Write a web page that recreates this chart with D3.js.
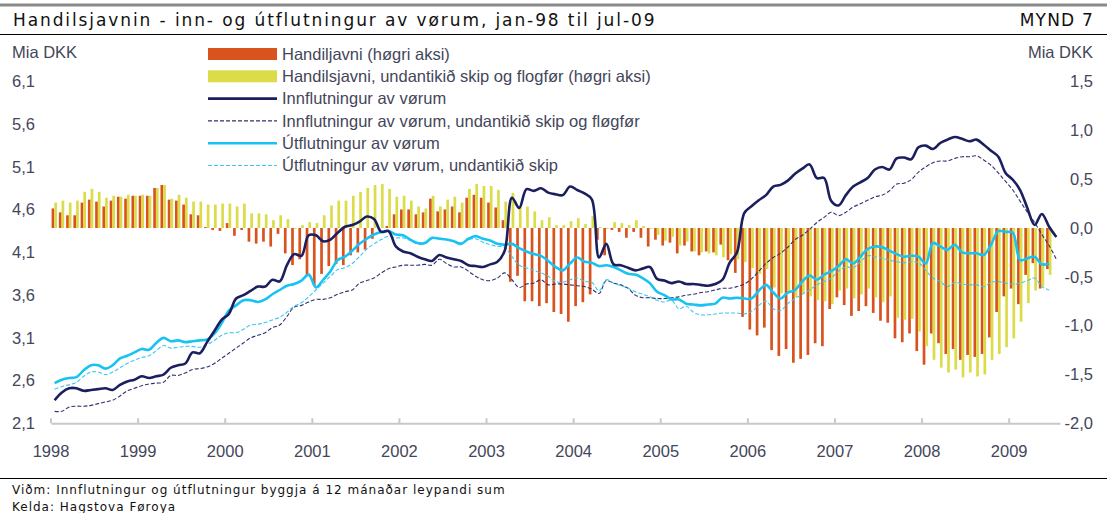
<!DOCTYPE html>
<html>
<head>
<meta charset="utf-8">
<script src="https://cdn.jsdelivr.net/npm/d3@7"></script>
<style>
  body { margin: 0; background: #fff; }
  .narrow { font-family: 'Liberation Sans Narrow', 'Arial Narrow', 'Liberation Sans', sans-serif; }
  .wide { font-family: 'DejaVu Sans', Verdana, sans-serif; }
</style>
</head>
<body>
<div id="chart"></div>
<script>
// Year tick labels and axis ticks
const years = ['1998', '1999', '2000', '2001', '2002', '2003', '2004', '2005', '2006', '2007', '2008', '2009'];
const leftTicks = [2.1, 2.6, 3.1, 3.6, 4.1, 4.6, 5.1, 5.6, 6.1];
const rightTicks = [-2.0, -1.5, -1.0, -0.5, 0.0, 0.5, 1.0, 1.5];

// Monthly values, jan-98 .. jul-09 (12 month rolling sums, Mia DKK)
const innflutningur = [
  2.37, 2.46, 2.51, 2.51, 2.48, 2.49, 2.50, 2.51, 2.49, 2.55, 2.59, 2.61,
  2.65, 2.63, 2.65, 2.67, 2.75, 2.78, 2.80, 2.93, 2.92, 3.05, 3.18, 3.31,
  3.38, 3.56, 3.60, 3.65, 3.70, 3.70, 3.78, 3.76, 3.95, 4.08, 4.06, 4.30,
  4.30, 4.23, 4.25, 4.33, 4.40, 4.42, 4.46, 4.52, 4.49, 4.34, 4.35, 4.17,
  4.11, 4.09, 4.05, 4.02, 4.00, 4.07, 4.04, 4.02, 4.00, 3.95, 3.94, 3.93,
  3.96, 3.99, 4.12, 4.74, 4.62, 4.84, 4.82, 4.85, 4.80, 4.78, 4.77, 4.87,
  4.83, 4.79, 4.72, 4.04, 4.20, 3.96, 3.95, 3.92, 3.89, 3.91, 3.93, 3.79,
  3.77, 3.74, 3.76, 3.73, 3.73, 3.72, 3.71, 3.73, 3.78, 3.98, 4.10, 4.56,
  4.64, 4.71, 4.77, 4.87, 4.89, 4.94, 5.02, 5.08, 5.13, 4.97, 4.97, 4.70,
  4.65, 4.77, 4.87, 4.92, 4.97, 5.07, 5.10, 5.07, 5.20, 5.21, 5.19, 5.33,
  5.35, 5.31, 5.38, 5.42, 5.45, 5.43, 5.40, 5.42, 5.36, 5.29, 5.22, 5.03,
  4.95, 4.83, 4.62, 4.42, 4.55, 4.40, 4.28
];
const innflutningurUtan = [
  2.24, 2.24, 2.29, 2.30, 2.30, 2.31, 2.33, 2.35, 2.37, 2.42, 2.48, 2.51,
  2.54, 2.56, 2.57, 2.58, 2.66, 2.66, 2.69, 2.73, 2.74, 2.76, 2.80, 2.86,
  2.92, 2.98, 3.04, 3.10, 3.13, 3.16, 3.22, 3.25, 3.35, 3.46, 3.48, 3.52,
  3.55, 3.55, 3.57, 3.61, 3.64, 3.66, 3.74, 3.77, 3.80, 3.86, 3.91, 3.93,
  3.95, 3.95, 3.95, 3.96, 3.95, 4.02, 3.97, 3.93, 3.93, 3.88, 3.82, 3.78,
  3.77, 3.80, 3.86, 3.78, 3.69, 3.73, 3.74, 3.78, 3.72, 3.73, 3.73, 3.72,
  3.71, 3.70, 3.67, 3.62, 3.77, 3.74, 3.72, 3.68, 3.60, 3.57, 3.57, 3.56,
  3.56, 3.57, 3.58, 3.60, 3.61, 3.63, 3.64, 3.66, 3.68, 3.68, 3.70, 3.73,
  3.79, 3.88, 3.97, 4.04, 4.09, 4.16, 4.25, 4.30, 4.37, 4.45, 4.51, 4.57,
  4.53, 4.57, 4.63, 4.67, 4.71, 4.75, 4.77, 4.82, 4.90, 4.91, 4.95, 5.04,
  5.10, 5.15, 5.17, 5.17, 5.20, 5.22, 5.22, 5.23, 5.18, 5.12, 5.03, 4.93,
  4.83, 4.70, 4.57, 4.45, 4.31, 4.18, 4.02
];
const utflutningur = [
  2.57, 2.61, 2.63, 2.64, 2.72, 2.78, 2.78, 2.74, 2.78, 2.86, 2.89, 2.93,
  2.97, 2.96, 3.04, 3.10, 3.06, 3.07, 3.05, 3.06, 3.07, 3.08, 3.15, 3.27,
  3.42, 3.48, 3.54, 3.54, 3.52, 3.55, 3.61, 3.66, 3.71, 3.73, 3.77, 3.84,
  3.69, 3.78, 3.88, 4.01, 4.05, 4.12, 4.20, 4.26, 4.31, 4.34, 4.35, 4.31,
  4.30, 4.25, 4.21, 4.21, 4.27, 4.26, 4.25, 4.23, 4.20, 4.26, 4.29, 4.26,
  4.24, 4.20, 4.19, 4.20, 4.15, 4.11, 4.08, 4.06, 4.00, 3.93, 3.89, 3.97,
  4.04, 3.99, 3.98, 3.94, 3.95, 3.93, 3.89, 3.85, 3.84, 3.80, 3.74, 3.64,
  3.60, 3.55, 3.55, 3.50, 3.49, 3.48, 3.49, 3.50, 3.57, 3.56, 3.57, 3.56,
  3.56, 3.65, 3.72, 3.63, 3.56, 3.63, 3.66, 3.76, 3.83, 3.78, 3.84, 3.88,
  3.94, 4.02, 3.97, 4.05, 4.14, 4.17, 4.16, 4.12, 4.08, 4.05, 4.06, 4.05,
  3.97, 4.21, 4.17, 4.13, 4.19, 4.10, 4.09, 4.09, 4.07, 4.19, 4.35, 4.34,
  4.33, 4.01, 4.03, 4.05, 3.96, 3.97
];
const utflutningurUtan = [
  2.50, 2.53, 2.55, 2.58, 2.65, 2.70, 2.70, 2.67, 2.70, 2.75, 2.80, 2.84,
  2.87, 2.89, 2.95, 3.01, 2.98, 2.99, 3.00, 3.00, 2.99, 3.02, 3.07, 3.13,
  3.16, 3.16, 3.20, 3.25, 3.26, 3.28, 3.31, 3.34, 3.40, 3.47, 3.51, 3.58,
  3.66, 3.74, 3.82, 3.90, 3.92, 3.97, 4.05, 4.14, 4.20, 4.25, 4.29, 4.27,
  4.27, 4.24, 4.20, 4.20, 4.27, 4.27, 4.25, 4.23, 4.21, 4.25, 4.26, 4.22,
  4.19, 4.17, 4.16, 4.05, 3.95, 3.92, 3.89, 3.86, 3.82, 3.76, 3.75, 3.78,
  3.80, 3.76, 3.75, 3.65, 3.78, 3.74, 3.71, 3.68, 3.64, 3.61, 3.58, 3.54,
  3.52, 3.54, 3.44, 3.47, 3.40, 3.37, 3.37, 3.38, 3.39, 3.39, 3.39, 3.38,
  3.41, 3.48, 3.53, 3.44, 3.42, 3.50, 3.56, 3.61, 3.66, 3.72, 3.76, 3.80,
  3.88, 3.93, 3.92, 3.99, 4.06, 4.05, 4.03, 4.01, 3.99, 3.98, 3.99, 3.98,
  3.89, 3.80, 3.76, 3.70, 3.75, 3.73, 3.72, 3.72, 3.70, 3.75, 3.76, 3.74,
  3.73, 3.74, 3.77, 3.80, 3.70, 3.66
];
// Trade balance bars (right axis)
const handilsjavni = [
  0.20, 0.16, 0.13, 0.13, 0.26, 0.29, 0.27, 0.22, 0.28, 0.32, 0.30, 0.33,
  0.33, 0.33, 0.41, 0.44, 0.29, 0.28, 0.24, 0.14, 0.13, 0.01, -0.02, -0.03,
  0.05, -0.08, -0.02, -0.14, -0.16, -0.14, -0.19, -0.06, -0.26, -0.38, -0.32, -0.48,
  -0.59, -0.47, -0.39, -0.37, -0.38, -0.28, -0.25, -0.22, -0.11, 0.00, 0.02, 0.14,
  0.19, 0.19, 0.14, 0.16, 0.30, 0.17, 0.19, 0.22, 0.16, 0.31, 0.34, 0.31,
  0.26, 0.21, 0.08, -0.55, -0.49, -0.75, -0.75, -0.80, -0.77, -0.86, -0.88, -0.96,
  -0.80, -0.76, -0.68, -0.12, -0.28, -0.02, -0.04, -0.10, -0.04, -0.10, -0.19, -0.12,
  -0.18, -0.15, -0.26, -0.18, -0.24, -0.28, -0.24, -0.25, -0.17, -0.33, -0.46, -0.91,
  -1.04, -1.10, -1.02, -1.25, -1.31, -1.24, -1.38, -1.34, -1.30, -1.18, -1.21, -0.83,
  -0.71, -0.79, -0.90, -0.85, -0.80, -0.87, -0.95, -0.97, -1.13, -1.17, -1.08, -1.26,
  -1.40, -1.08, -1.18, -1.29, -1.24, -1.35, -1.30, -1.32, -1.29, -1.12, -0.86, -0.70,
  -0.62, -0.78, -0.48, -0.36, -0.62, -0.42
];
const handilsjavniUtan = [
  0.26, 0.28, 0.26, 0.28, 0.37, 0.40, 0.37, 0.31, 0.33, 0.32, 0.34, 0.33,
  0.34, 0.33, 0.41, 0.44, 0.30, 0.34, 0.31, 0.27, 0.27, 0.24, 0.24, 0.25,
  0.25, 0.22, 0.25, 0.15, 0.15, 0.14, 0.08, 0.13, 0.09, -0.01, 0.03, 0.06,
  0.05, 0.13, 0.23, 0.28, 0.28, 0.33, 0.37, 0.41, 0.44, 0.45, 0.40, 0.32,
  0.33, 0.28, 0.22, 0.20, 0.33, 0.22, 0.29, 0.32, 0.26, 0.40, 0.45, 0.43,
  0.43, 0.39, 0.27, 0.36, 0.22, 0.22, 0.17, 0.08, 0.11, 0.03, 0.03, 0.07,
  0.10, 0.04, 0.12, 0.01, -0.01, 0.06, 0.05, 0.03, 0.08, 0.02, -0.01, -0.07,
  -0.13, -0.09, -0.18, -0.14, -0.24, -0.25, -0.26, -0.28, -0.30, -0.27, -0.32, -0.35,
  -0.41, -0.47, -0.42, -0.61, -0.67, -0.65, -0.71, -0.67, -0.70, -0.74, -0.75, -0.78,
  -0.64, -0.62, -0.72, -0.68, -0.62, -0.71, -0.76, -0.70, -0.92, -0.94, -0.93, -1.06,
  -1.21, -1.35, -1.43, -1.48, -1.45, -1.53, -1.48, -1.52, -1.50, -1.35, -1.29, -1.22,
  -1.13, -0.96, -0.77, -0.64, -0.60, -0.48
];

const legendItems = [
  { label: 'Handiljavni (høgri aksi)', type: 'bar', color: '#d9531e' },
  { label: 'Handilsjavni, undantikið skip og flogfør (høgri aksi)', type: 'bar', color: '#dcdc48' },
  { label: 'Innflutningur av vørum', type: 'line', color: '#1b1f5e', width: 2.6 },
  { label: 'Innflutningur av vørum, undantikið skip og fløgfør', type: 'line', color: '#2f336f', width: 1.1, dash: '4,2' },
  { label: 'Útflutningur av vørum', type: 'line', color: '#18c3f2', width: 2.6 },
  { label: 'Útflutningur av vørum, undantikið skip', type: 'line', color: '#3cc8f2', width: 1.1, dash: '4,2' }
];

class TradeBalanceChart {
  constructor(containerId) {
    this.width = 1107;
    this.height = 513;
    // plot box in page pixels
    this.plot = { left: 51, right: 1060, top: 81.5, bottom: 423.3 };

    this.svg = d3.select(`#${containerId}`)
      .append('svg')
      .attr('width', this.width)
      .attr('height', this.height);

    this._initScales();
    this._renderFrame();
    this._renderAxes();
    this._renderBars();
    this._renderLines();
    this._renderLegend();
  }

  _initScales() {
    const p = this.plot;
    this.x = d3.scaleBand()
      .domain(d3.range(innflutningur.length))
      .range([p.left, p.right])
      .padding(0);
    // orange and yellow bar side by side inside each month
    this.xSub = d3.scaleBand()
      .domain(['bal', 'balx'])
      .range([0.6, 6.0]);
    this.yLeft = d3.scaleLinear().domain([2.1, 6.1]).range([p.bottom, p.top]);
    this.yRight = d3.scaleLinear().domain([-2.0, 1.5]).range([p.bottom, p.top]);
  }

  _fmt(v) {
    return v.toFixed(1).replace('.', ',');
  }

  _renderFrame() {
    const svg = this.svg;
    svg.append('line')
      .attr('x1', 0).attr('x2', this.width).attr('y1', 5).attr('y2', 5)
      .attr('stroke', '#8a8a8a').attr('stroke-width', 3);
    svg.append('line')
      .attr('x1', 0).attr('x2', this.width).attr('y1', 34.5).attr('y2', 34.5)
      .attr('stroke', '#000').attr('stroke-width', 1);
    svg.append('line')
      .attr('x1', 0).attr('x2', this.width).attr('y1', 478.5).attr('y2', 478.5)
      .attr('stroke', '#000').attr('stroke-width', 1);

    svg.append('text')
      .attr('class', 'wide')
      .attr('x', 13).attr('y', 26)
      .attr('font-size', '17px').attr('letter-spacing', '1.9px').attr('fill', '#111')
      .text('Handilsjavnin - inn- og útflutningur av vørum, jan-98 til jul-09');
    svg.append('text')
      .attr('class', 'wide')
      .attr('x', 1094).attr('y', 26)
      .attr('text-anchor', 'end')
      .attr('font-size', '17px').attr('letter-spacing', '1.2px').attr('fill', '#111')
      .text('MYND 7');

    const foot = ['Viðm: Innflutningur og útflutningur byggja á 12 mánaðar leypandi sum', 'Kelda: Hagstova Føroya'];
    svg.selectAll('.foot')
      .data(foot)
      .enter().append('text')
      .attr('class', 'wide foot')
      .attr('x', 12)
      .attr('y', (d, i) => 494 + i * 17)
      .attr('font-size', '12px').attr('letter-spacing', '1px').attr('fill', '#111')
      .text(d => d);

    svg.append('text').attr('class', 'narrow')
      .attr('x', 12).attr('y', 58)
      .attr('font-size', '16.5px').attr('fill', '#44465a')
      .text('Mia DKK');
    svg.append('text').attr('class', 'narrow')
      .attr('x', 1093).attr('y', 58)
      .attr('text-anchor', 'end')
      .attr('font-size', '16.5px').attr('fill', '#44465a')
      .text('Mia DKK');
  }

  _renderAxes() {
    const p = this.plot;
    const xAxis = d3.axisBottom(this.x)
      .tickValues(years.map((y, i) => i * 12))
      .tickSizeInner(-5)
      .tickSizeOuter(0)
      .tickPadding(22)
      .tickFormat(i => years[i / 12]);

    const gx = this.svg.append('g')
      .attr('transform', `translate(0,${p.bottom})`)
      .call(xAxis);
    // ticks sit on the month boundary, not the band centre
    gx.selectAll('.tick')
      .attr('transform', d => `translate(${this.x(d)},0)`);
    gx.select('.domain').attr('stroke', '#c8c8c8').attr('stroke-width', 2);
    gx.selectAll('.tick line').attr('stroke', '#c8c8c8').attr('stroke-width', 2);
    gx.selectAll('text')
      .attr('class', 'narrow')
      .attr('font-size', '16.5px')
      .attr('fill', '#44465a');

    const gl = this.svg.append('g')
      .attr('transform', 'translate(12,0)')
      .call(d3.axisRight(this.yLeft).tickValues(leftTicks).tickSize(0).tickPadding(0).tickFormat(d => this._fmt(d)));
    const gr = this.svg.append('g')
      .attr('transform', 'translate(1093,0)')
      .call(d3.axisLeft(this.yRight).tickValues(rightTicks).tickSize(0).tickPadding(0).tickFormat(d => this._fmt(d)));
    [gl, gr].forEach(g => {
      g.select('.domain').remove();
      g.selectAll('text')
        .attr('class', 'narrow')
        .attr('font-size', '16.5px')
        .attr('fill', '#44465a');
    });
  }

  _renderBars() {
    const zero = this.yRight(0);
    const series = [
      { key: 'bal', values: handilsjavni, color: legendItems[0].color },
      { key: 'balx', values: handilsjavniUtan, color: legendItems[1].color }
    ];
    const g = this.svg.append('g').attr('class', 'bars');
    series.forEach(s => {
      g.selectAll(`.bar-${s.key}`)
        .data(s.values)
        .enter().append('rect')
        .attr('class', `bar-${s.key}`)
        .attr('x', (d, i) => this.x(i) + this.xSub(s.key))
        .attr('width', this.xSub.bandwidth())
        .attr('y', d => Math.min(zero, this.yRight(d)))
        .attr('height', d => Math.abs(this.yRight(d) - zero))
        .attr('fill', s.color);
    });
  }

  _renderLines() {
    const half = this.x.bandwidth() / 2;
    const line = d3.line()
      .x((d, i) => this.x(i) + half)
      .y(d => this.yLeft(d))
      .curve(d3.curveCatmullRom.alpha(0.5));

    const series = [
      { values: innflutningurUtan, style: legendItems[3] },
      { values: utflutningurUtan, style: legendItems[5] },
      { values: utflutningur, style: legendItems[4] },
      { values: innflutningur, style: legendItems[2] }
    ];
    const g = this.svg.append('g').attr('class', 'lines');
    series.forEach(s => {
      g.append('path')
        .datum(s.values)
        .attr('d', line)
        .attr('fill', 'none')
        .attr('stroke', s.style.color)
        .attr('stroke-width', s.style.width)
        .attr('stroke-dasharray', s.style.dash || null)
        .attr('stroke-linejoin', 'round');
    });
  }

  _renderLegend() {
    const g = this.svg.append('g').attr('class', 'legend');
    const rowY = i => 54 + i * 22.3;
    const items = g.selectAll('.item')
      .data(legendItems)
      .enter().append('g')
      .attr('transform', (d, i) => `translate(208,${rowY(i)})`);

    items.filter(d => d.type === 'bar')
      .append('rect')
      .attr('x', 0).attr('y', -6)
      .attr('width', 69).attr('height', 12)
      .attr('fill', d => d.color);

    items.filter(d => d.type === 'line')
      .append('line')
      .attr('x1', 0).attr('x2', 69)
      .attr('stroke', d => d.color)
      .attr('stroke-width', d => d.width)
      .attr('stroke-dasharray', d => d.dash || null);

    items.append('text')
      .attr('class', 'narrow')
      .attr('x', 74).attr('dy', '0.35em')
      .attr('font-size', '16.5px')
      .attr('fill', '#44465a')
      .text(d => d.label);
  }
}

new TradeBalanceChart('chart');
</script>
</body>
</html>
